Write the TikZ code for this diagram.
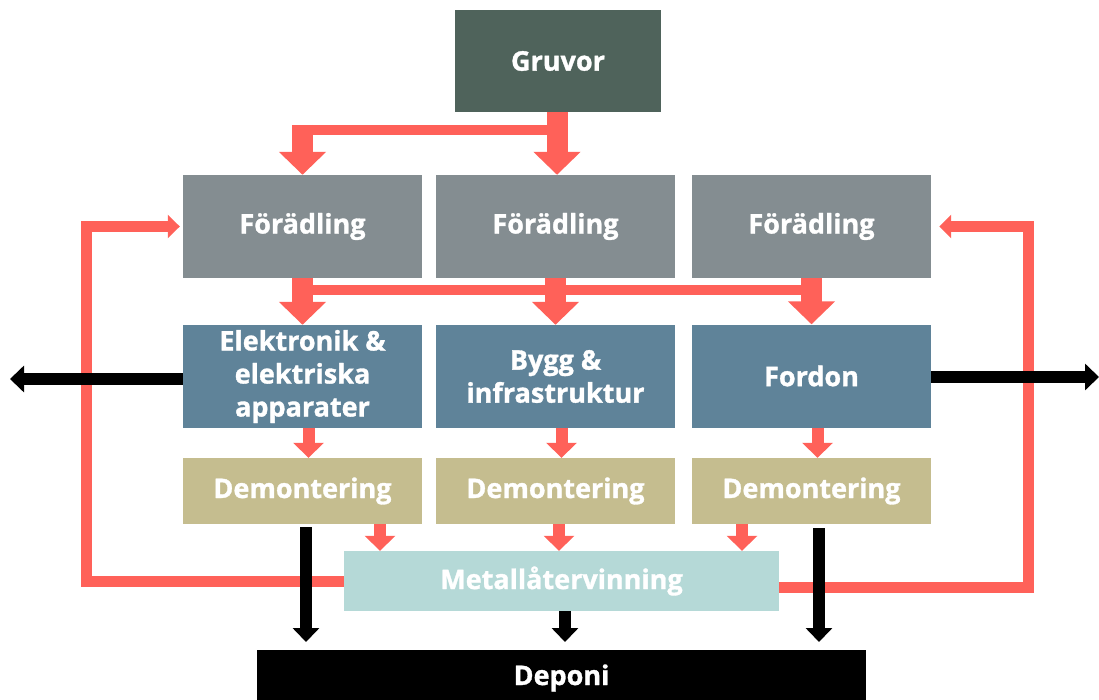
\documentclass[tikz,border=0pt]{standalone}
\usepackage{fontspec}
\setmainfont{Open Sans}[BoldFeatures={FakeBold=1.2}]
\usetikzlibrary{arrows.meta}
\definecolor{gruvgreen}{HTML}{4F635B}
\definecolor{fgrey}{HTML}{848D91}
\definecolor{pblue}{HTML}{5F8399}
\definecolor{dkhaki}{HTML}{C5BD8F}
\definecolor{mteal}{HTML}{B5D9D7}
\definecolor{flowred}{HTML}{FF6159}
\tikzstyle{box} = [inner sep=0pt, align=center, text=white, font={\fontsize{27}{33}\selectfont\bfseries}]
\tikzstyle{wide} = [box, minimum width=239pt]
\tikzstyle{mine} = [box, fill=gruvgreen, minimum width=206pt, minimum height=102pt]
\tikzstyle{refine} = [wide, fill=fgrey, minimum height=103pt]
\tikzstyle{product} = [wide, fill=pblue, minimum height=103pt]
\tikzstyle{dismantle} = [wide, fill=dkhaki, minimum height=66pt]
\tikzstyle{recycle} = [box, fill=mteal, minimum width=435pt, minimum height=60pt]
\tikzstyle{landfill} = [box, fill=black, minimum width=609pt, minimum height=56pt]
\tikzstyle{bigflow} = [draw=flowred, line width=21pt, -{Triangle[width=46pt,length=23pt]}]
\tikzstyle{bus} = [draw=flowred, line width=10pt]
\tikzstyle{smallflow} = [draw=flowred, line width=12pt, -{Triangle[width=30pt,length=15pt]}]
\tikzstyle{loopflow} = [draw=flowred, line width=11pt, line join=miter, -{Triangle[width=23pt,length=12pt]}]
\tikzstyle{waste} = [draw=black, line width=12pt, -{Triangle[width=26pt,length=14pt]}]

\begin{document}
\begin{tikzpicture}[x=1pt,y=-1pt]
    \useasboundingbox (0,0) rectangle (1099,700);
    \node[mine](gruvor) at (558,61){Gruvor};
    \node[refine](f1) at (302.5,226.5){Förädling};
    \node[refine](f2) at (555.5,226.5){Förädling};
    \node[refine](f3) at (811.5,226.5){Förädling};
    \node[product](p1) at (302.5,376.5){Elektronik \&\\elektriska\\apparater};
    \node[product](p2) at (555.5,376.5){Bygg \&\\infrastruktur};
    \node[product](p3) at (811.5,376){Fordon};
    \node[dismantle](d1) at (302.5,491){Demontering};
    \node[dismantle](d2) at (555.5,491){Demontering};
    \node[dismantle](d3) at (811.5,491){Demontering};
    \node[recycle](metall) at (561.5,581){Metallåtervinning};
    \node[landfill](deponi) at (561.5,678){Deponi};
    % mines to refining
    \coordinate (split) at (557,130);
    \coordinate (loopL) at (86,0);
    \coordinate (loopR) at (1028,0);
    \coordinate (outL) at (10,379);
    \coordinate (outR) at (1099,377);
    \draw[bus] (split) -- (305,130);
    \draw[bigflow] (f1.north |- 0,125) -- (f1.north);
    \draw[bigflow] (gruvor.south -| split) -- (f2.north -| split);
    % refining to products
    \draw[bus] (f1.south |- 0,290) -- (f3.south |- 0,290);
    \foreach \i in {1,2,3}{
        \draw[bigflow] (f\i.south) -- (p\i.north);
        \draw[smallflow] ([xshift=6pt]p\i.south) -- ([xshift=6pt]d\i.north);
    }
    % dismantling to recycling
    \draw[smallflow] (d1.south -| 380,0) -- (metall.north -| 380,0);
    \draw[smallflow] (d2.south -| 559,0) -- (metall.north -| 559,0);
    \draw[smallflow] (d3.south -| 742,0) -- (metall.north -| 742,0);
    % recycled metal back to refining
    \draw[loopflow] (metall.west) -- (loopL |- metall.west) -- (loopL |- f1.west) -- ([xshift=-3pt]f1.west);
    \draw[loopflow] ([yshift=-6pt]metall.east) -- (loopR |- 0,587) -- (loopR |- f3.east) -- ([xshift=8pt]f3.east);
    % waste and export
    \draw[waste] (p1.west |- outL) -- (outL);
    \draw[waste] (p3.east |- outR) -- (outR);
    \draw[waste] (306,527) -- (306,642);
    \draw[waste] (819,528) -- (819,642);
    \draw[waste] (metall.south -| 565,0) -- (565,642);
  \end{tikzpicture}
\end{document}
